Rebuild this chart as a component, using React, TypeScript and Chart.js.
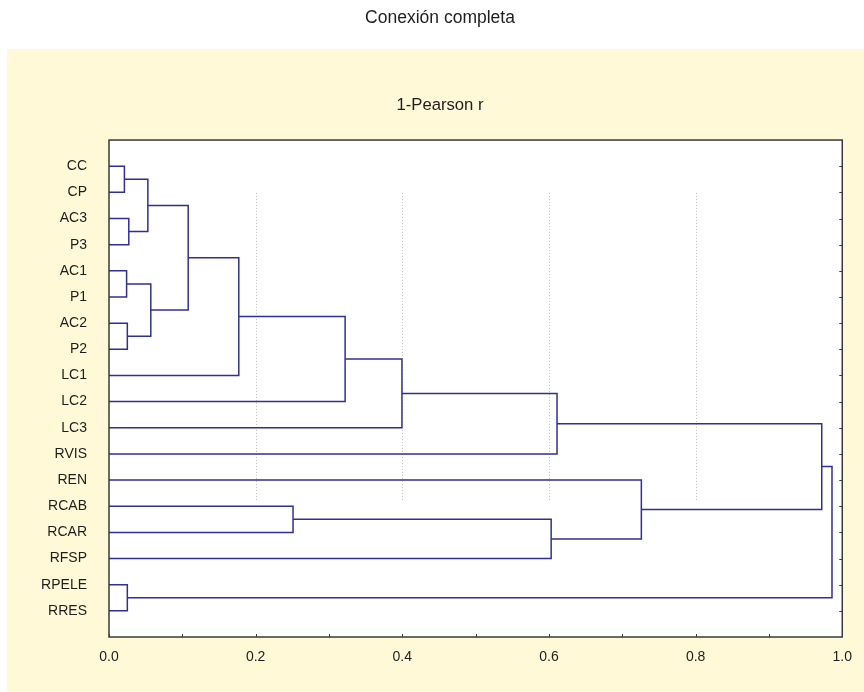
import React, { useEffect, useRef } from "react";
import { Chart, registerables } from "chart.js";

Chart.register(...registerables);

// ---- data ----
const TITLE = "Conexión completa";
const SUBTITLE = "1-Pearson r";
const LEAF_LABELS = ["CC", "CP", "AC3", "P3", "AC1", "P1", "AC2", "P2", "LC1", "LC2", "LC3", "RVIS", "REN", "RCAB", "RCAR", "RFSP", "RPELE", "RRES"];
// linkage table: merged cluster id = LEAF_LABELS.length + merge index
const MERGE_LEFT = [0, 2, 18, 4, 6, 21, 20, 24, 25, 26, 27, 13, 29, 12, 16, 28, 33];
const MERGE_RIGHT = [1, 3, 19, 5, 7, 22, 23, 8, 9, 10, 11, 14, 15, 30, 17, 31, 32];
const MERGE_HEIGHT = [0.021, 0.027, 0.053, 0.024, 0.025, 0.057, 0.108, 0.177, 0.322, 0.3995, 0.611, 0.251, 0.603, 0.726, 0.025, 0.972, 0.986];
const X_MIN = 0;
const X_MAX = 1;
const X_STEP = 0.1;
const GRID_X = [0.2, 0.4, 0.6, 0.8];
const GRID_Y_FROM = 1.02;
const GRID_Y_TO = 12.78;

// ---- style ----
const FONT = '"Liberation Sans", Arial, sans-serif';
const TEXT_COLOR = "#1e1e1e";
const LINE_COLOR = "#2f2f98";
const PANEL_COLOR = "#FFF9D7";
const FRAME_COLOR = "#3a3a3a";
const PAD_LEFT = 36;
const AXIS_LEFT = 109;

function buildDatasets() {
  const pos: number[] = LEAF_LABELS.map((_, i) => i);
  const hgt: number[] = LEAF_LABELS.map(() => 0);
  return MERGE_HEIGHT.map((h, k) => {
    const a = MERGE_LEFT[k];
    const b = MERGE_RIGHT[k];
    const data = [
      { x: hgt[a], y: pos[a] },
      { x: h, y: pos[a] },
      { x: h, y: pos[b] },
      { x: hgt[b], y: pos[b] },
    ];
    pos.push((pos[a] + pos[b]) / 2);
    hgt.push(h);
    return {
      data,
      showLine: true,
      borderColor: LINE_COLOR,
      backgroundColor: LINE_COLOR,
      borderWidth: 1.5,
      pointRadius: 0,
      pointHoverRadius: 0,
      tension: 0,
      fill: false,
    };
  });
}

const panelPlugin = {
  id: "panelPlugin",
  beforeDraw(chart: any) {
    const { ctx, chartArea: ca, width, height } = chart;
    ctx.save();
    ctx.fillStyle = "#ffffff";
    ctx.fillRect(0, 0, width, height);
    ctx.fillStyle = PANEL_COLOR;
    ctx.fillRect(7, 49, width - 7, height - 49);
    ctx.fillStyle = "#ffffff";
    ctx.fillRect(ca.left, ca.top, ca.right - ca.left, ca.bottom - ca.top);
    const xs = chart.scales.x;
    const ys = chart.scales.y;
    ctx.strokeStyle = "#bcbcbc";
    ctx.lineWidth = 1;
    ctx.setLineDash([1, 2]);
    GRID_X.forEach((v) => {
      const px = Math.round(xs.getPixelForValue(v)) + 0.5;
      ctx.beginPath();
      ctx.moveTo(px, ys.getPixelForValue(GRID_Y_FROM));
      ctx.lineTo(px, ys.getPixelForValue(GRID_Y_TO));
      ctx.stroke();
    });
    ctx.restore();
  },
  afterDatasetsDraw(chart: any) {
    const { ctx, chartArea: ca } = chart;
    const xs = chart.scales.x;
    const ys = chart.scales.y;
    ctx.save();
    ctx.strokeStyle = FRAME_COLOR;
    ctx.lineWidth = 1.5;
    ctx.strokeRect(ca.left, ca.top, ca.right - ca.left, ca.bottom - ca.top);
    ctx.lineWidth = 1;
    ctx.beginPath();
    for (let v = X_MIN; v <= X_MAX + 1e-9; v += X_STEP) {
      const px = Math.round(xs.getPixelForValue(v)) + 0.5;
      ctx.moveTo(px, ca.bottom);
      ctx.lineTo(px, ca.bottom - 3);
    }
    LEAF_LABELS.forEach((_, i) => {
      const py = Math.round(ys.getPixelForValue(i)) + 0.5;
      ctx.moveTo(ca.right, py);
      ctx.lineTo(ca.right - 3, py);
    });
    ctx.stroke();
    ctx.restore();
  },
};

export default function App() {
  const ref = useRef<HTMLCanvasElement | null>(null);
  useEffect(() => {
    if (!ref.current) return;
    const chart = new Chart(ref.current, {
      type: "scatter",
      data: { datasets: buildDatasets() as any },
      options: {
        responsive: false,
        animation: false,
        events: [],
        layout: { padding: { left: PAD_LEFT, right: 20, top: 0, bottom: 0 } },
        plugins: {
          legend: { display: false },
          tooltip: { enabled: false },
          title: {
            display: true,
            text: TITLE,
            color: TEXT_COLOR,
            font: { family: FONT, size: 17.5, weight: "normal" },
            padding: { top: 7.5, bottom: 40 },
          },
          subtitle: {
            display: true,
            text: SUBTITLE,
            color: TEXT_COLOR,
            font: { family: FONT, size: 16.7, weight: "normal" },
            padding: { top: 26.5, bottom: 25 },
          },
        },
        scales: {
          x: {
            type: "linear",
            position: "bottom",
            min: X_MIN,
            max: X_MAX,
            grid: { display: false, drawTicks: false },
            border: { display: false },
            ticks: {
              stepSize: X_STEP,
              autoSkip: false,
              maxRotation: 0,
              padding: 12,
              color: TEXT_COLOR,
              font: { family: FONT, size: 14 },
              callback: (v: any) => (Math.round(Number(v) * 10) % 2 === 0 ? Number(v).toFixed(1) : ""),
            },
            afterFit: (s: any) => {
              s.height = 55;
            },
          },
          y: {
            type: "linear",
            position: "left",
            reverse: true,
            min: -1,
            max: LEAF_LABELS.length,
            grid: { display: false, drawTicks: false },
            border: { display: false },
            ticks: {
              stepSize: 1,
              autoSkip: false,
              padding: 22,
              color: TEXT_COLOR,
              font: { family: FONT, size: 14 },
              callback: (v: any) => {
                const i = Math.round(Number(v));
                return i >= 0 && i < LEAF_LABELS.length ? LEAF_LABELS[i] : "";
              },
            },
            afterFit: (s: any) => {
              s.width = AXIS_LEFT - PAD_LEFT;
            },
          },
        },
      },
      plugins: [panelPlugin],
    });
    return () => chart.destroy();
  }, []);
  return (
    <div style={{ position: "absolute", left: 0, top: 0, width: 864, height: 692 }}>
      <canvas ref={ref} width={864} height={692} style={{ display: "block" }} />
    </div>
  );
}
